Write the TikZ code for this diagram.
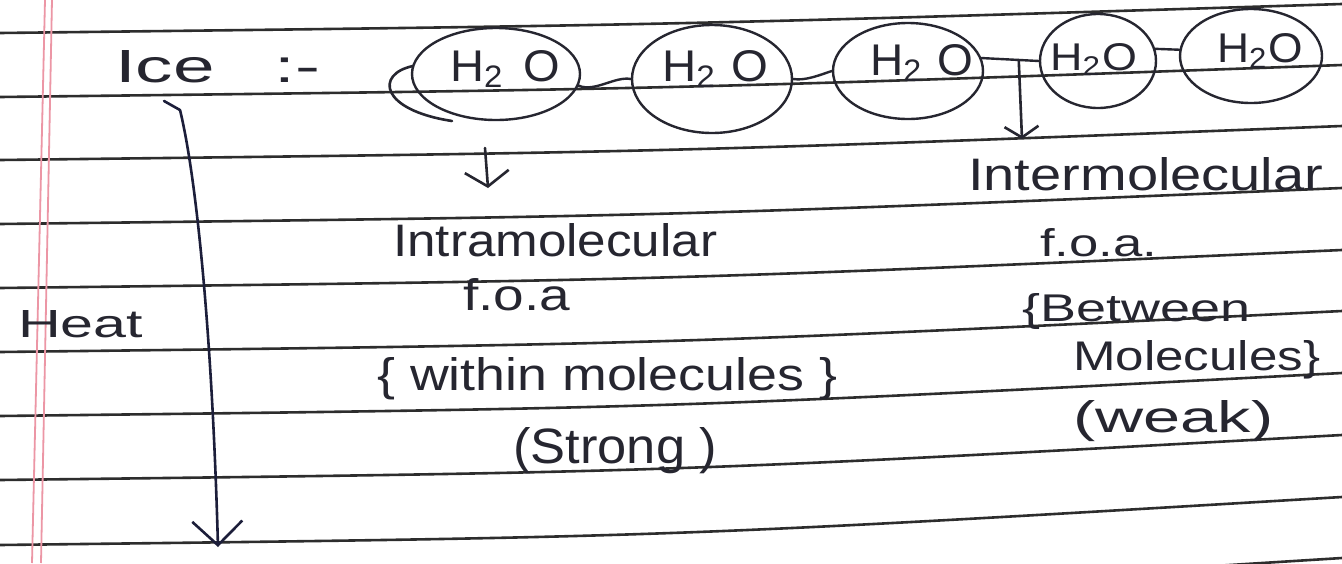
\documentclass[tikz,border=0pt]{standalone}
\usepackage{fontspec}
\setmainfont{Liberation Sans}
\usepackage{graphicx}
\usetikzlibrary{shapes.geometric,arrows.meta}
\definecolor{ink}{RGB}{38,38,48}
\definecolor{heatink}{RGB}{28,30,58}
\definecolor{ruleline}{RGB}{45,45,45}
\definecolor{margin}{RGB}{236,150,165}
\newcommand\hw[3]{\resizebox{#1pt}{#2pt}{#3}}
\begin{document}
\begin{tikzpicture}[x=1pt,y=-1pt,
  hand/.style={inner sep=0pt, anchor=base west, text=ink},
  mol/.style={draw=ink, line width=2.4pt, ellipse, inner sep=0pt},
  bond/.style={draw=ink, line width=2.4pt, line cap=round},
  pen/.style={draw=ink, line width=2.6pt, line cap=round, line join=round},
]
\useasboundingbox (0,0) rectangle (1342,563);
\fill[white] (0,0) rectangle (1342,563);
% ruled paper
\begin{scope}
\clip (0,0) rectangle (1342,563);
\foreach \L/\d in {33/29, 97/32, 160/34, 224/36, 288/38, 352/41, 416/43, 480/45, 545/48, 608/50}
  \draw[ruleline, line width=2.6pt] (0,\L) .. controls (671,\L-8) .. (1342,\L-\d);
\draw[margin, line width=1.8pt] (45,0) -- (32,563);
\draw[margin, line width=1.8pt] (52,0) -- (41,563);
\end{scope}

% left labels
\node[hand] (ice) at (115,82) {\hw{205}{32}{Ice\hspace{0.8em}:-}};
\node[hand] (heat) at (18,337) {\hw{125}{27}{Heat}};

% molecules
\node[mol, minimum width=168pt, minimum height=92pt] (e1) at (496,74) {};
\node[mol, minimum width=160pt, minimum height=108pt] (e2) at (712,79) {};
\node[mol, minimum width=150pt, minimum height=96pt] (e3) at (908,71) {};
\node[mol, minimum width=116pt, minimum height=94pt] (e4) at (1098,61) {};
\node[mol, minimum width=142pt, minimum height=94pt] (e5) at (1251,56) {};
\draw[pen] (413,66) .. controls (375,74) and (380,110) .. (452,121);

\node[hand] (h1) at (450,81) {\hw{110}{31}{H\textsubscript{2}\hspace{0.4em}O}};
\node[hand] (h2) at (662,81) {\hw{106}{31}{H\textsubscript{2}\hspace{0.3em}O}};
\node[hand] (h3) at (870,75) {\hw{103}{31}{H\textsubscript{2}\hspace{0.3em}O}};
\node[hand] (h4) at (1050,70) {\hw{87}{27}{H\textsubscript{2}O}};
\node[hand] (h5) at (1217,62) {\hw{86}{29}{H\textsubscript{2}O}};

% bonds
\draw[bond] (e1.-8) .. controls +(16,7) and +(-16,-3) .. (e2.west);
\draw[bond] (e2.east) .. controls +(12,2) and +(-12,4) .. (e3.west);
\draw[bond] (e3.10) -- coordinate[pos=0.65] (m34) (e4.west);
\draw[bond] (e4.12) -- (e5.175);

% arrows
\coordinate (a1s) at (485,148);
\coordinate (a1e) at (488,188);
\draw[pen, -{Straight Barb[length=15pt,width=44pt,line width=2.6pt]}] (a1s) -- (a1e);
\coordinate (a2e) at (1022,139);
\draw[pen, -{Straight Barb[length=11pt,width=34pt,line width=2.6pt]}] (m34) -- (a2e);

\coordinate (ht) at (164,101);
\coordinate (hs) at (180,110);
\coordinate (hb) at (218,547);
\draw[pen, draw=heatink] (ht) -- (hs);
\draw[pen, draw=heatink, -{Straight Barb[length=24pt,width=50pt,line width=2.6pt]}] (hs) .. controls (196,175) and (212,330) .. (hb);

% texts
\node[hand] (intra) at (393,256) {\hw{324}{33}{Intramolecular}};
\node[hand] (foa1) at (463,310) {\hw{107}{32}{f.o.a}};
\node[hand] (within) at (377,390) {\hw{460}{33}{\{ within molecules \}}};
\node[hand] (strong) at (513,463) {\hw{204}{36}{(Strong )}};

\node[hand] (inter) at (968,190) {\hw{355}{33}{Intermolecular}};
\node[hand] (foa2) at (1040,256) {\hw{117}{28}{f.o.a.}};
\node[hand] (betw) at (1022,321) {\hw{228}{28}{\{Between}};
\node[hand] (molec) at (1073,370) {\hw{247}{30}{Molecules\}}};
\node[hand] (weak) at (1073,432) {\hw{200}{32}{(weak)}};
\end{tikzpicture}
\end{document}
